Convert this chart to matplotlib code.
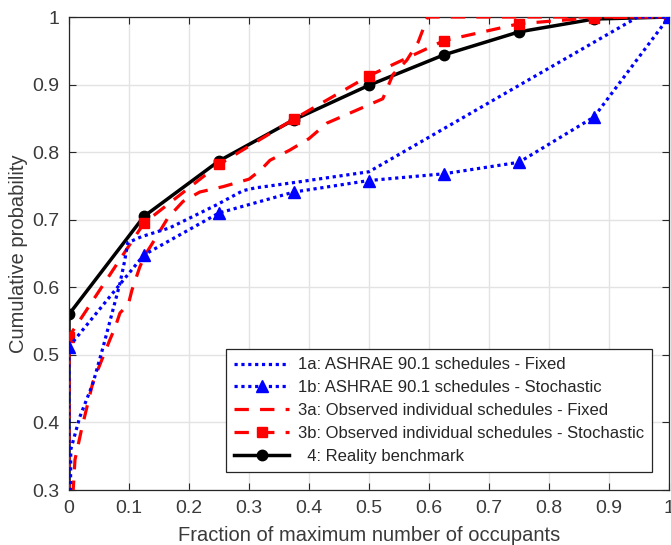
import matplotlib
matplotlib.use("Agg")
import matplotlib.pyplot as plt
from matplotlib.ticker import FuncFormatter, MultipleLocator

plt.rcParams['font.family'] = ['Liberation Sans', 'DejaVu Sans']

# 1a: ASHRAE 90.1 schedules - Fixed
x_1a = [0.0, 0.003, 0.018, 0.04, 0.057, 0.085, 0.093, 0.098, 0.121, 0.168, 0.246, 0.29, 0.31, 0.375, 0.5, 0.948, 1.0]
y_1a = [0.0, 0.36, 0.408, 0.458, 0.512, 0.606, 0.64, 0.666, 0.675, 0.688, 0.722, 0.743, 0.747, 0.755, 0.771, 1.0, 1.0]

# 1b: ASHRAE 90.1 schedules - Stochastic
x_1b = [0.0, 0.0, 0.125, 0.25, 0.375, 0.5, 0.625, 0.75, 0.875, 1.0]
y_1b = [0.0, 0.512, 0.648, 0.71, 0.741, 0.758, 0.768, 0.785, 0.852, 1.0]

# 3a: Observed individual schedules - Fixed
x_3a = [0.005, 0.007, 0.01, 0.021, 0.04, 0.068, 0.077, 0.085, 0.099, 0.105, 0.118, 0.127, 0.146,
        0.165, 0.19, 0.218, 0.257, 0.30, 0.32, 0.335, 0.368, 0.40, 0.43, 0.523, 0.54, 0.563, 0.582, 0.598, 1.0]
y_3a = [0.0, 0.3, 0.345, 0.39, 0.46, 0.522, 0.541, 0.562, 0.575, 0.596, 0.63, 0.648, 0.675,
        0.703, 0.727, 0.741, 0.749, 0.760, 0.774, 0.788, 0.803, 0.82, 0.843, 0.879, 0.915, 0.936, 0.963, 1.0, 1.0]

# 3b: Observed individual schedules - Stochastic
x_3b = [0.0, 0.0, 0.125, 0.25, 0.375, 0.5, 0.625, 0.75, 0.875, 1.0]
y_3b = [0.0, 0.527, 0.695, 0.782, 0.849, 0.913, 0.965, 0.99, 0.999, 1.0]

# 4: Reality benchmark
x_4 = [0.0, 0.0, 0.125, 0.25, 0.375, 0.5, 0.625, 0.75, 0.875, 1.0]
y_4 = [0.0, 0.56, 0.705, 0.787, 0.848, 0.899, 0.944, 0.978, 0.997, 1.0]

labels = ['1a: ASHRAE 90.1 schedules - Fixed',
          '1b: ASHRAE 90.1 schedules - Stochastic',
          '3a: Observed individual schedules - Fixed',
          '3b: Observed individual schedules - Stochastic',
          '  4: Reality benchmark']

fig = plt.figure(figsize=(6.71, 5.45), dpi=100)
ax = fig.add_axes([0.1028, 0.1009, 0.8942, 0.8679])

dot = (0, (1.0, 1.15))
dash = (0, (4.5, 3.5))
lw = 2.3
mk = list(range(1, 10))

l4, = ax.plot(x_4, y_4, color='black', lw=2.5, marker='o', ms=7.5, markevery=mk, zorder=2, label=labels[4])
l3b, = ax.plot(x_3b, y_3b, color='red', lw=lw, ls=dash, marker='s', ms=7.5, markevery=mk, zorder=3, label=labels[3])
l3a, = ax.plot(x_3a, y_3a, color='red', lw=lw, ls=dash, zorder=3, label=labels[2])
l1b, = ax.plot(x_1b, y_1b, color='blue', lw=lw, ls=dot, marker='^', ms=8.5, markevery=mk, zorder=4, label=labels[1])
l1a, = ax.plot(x_1a, y_1a, color='blue', lw=lw, ls=dot, zorder=4, label=labels[0])
for l in (l1a, l1b):
    l.set_dash_capstyle('butt')

ax.set_xlim(0, 1)
ax.set_ylim(0.3, 1)
ax.xaxis.set_major_locator(MultipleLocator(0.1))
ax.yaxis.set_major_locator(MultipleLocator(0.1))
fmt = FuncFormatter(lambda v, p: ('%g' % round(v, 2)))
ax.xaxis.set_major_formatter(fmt)
ax.yaxis.set_major_formatter(fmt)
ax.grid(True, color='#e3e3e3', lw=1.0)
ax.set_axisbelow(True)
ax.tick_params(direction='in', length=5, width=0.8, top=True, right=True,
               labelsize=14, colors='#262626', labelcolor='#3a3a3a', pad=7)
for s in ax.spines.values():
    s.set_color('#262626')
    s.set_linewidth(0.9)

ax.set_xlabel('Fraction of maximum number of occupants', fontsize=14.5, color='#3a3a3a', labelpad=7)
ax.set_ylabel('Cumulative probability', fontsize=14.5, color='#3a3a3a', labelpad=3)

leg = ax.legend(handles=[l1a, l1b, l3a, l3b, l4], loc='lower right',
                bbox_to_anchor=(0.972, 0.038), fontsize=12, frameon=True, fancybox=False,
                edgecolor='#262626', framealpha=1, handlelength=3.3, handletextpad=0.5,
                borderpad=0.5, labelspacing=0.47, borderaxespad=0)
leg.get_frame().set_linewidth(0.9)
for t in leg.get_texts():
    t.set_color('#262626')

fig.savefig('out.png', dpi=100)
